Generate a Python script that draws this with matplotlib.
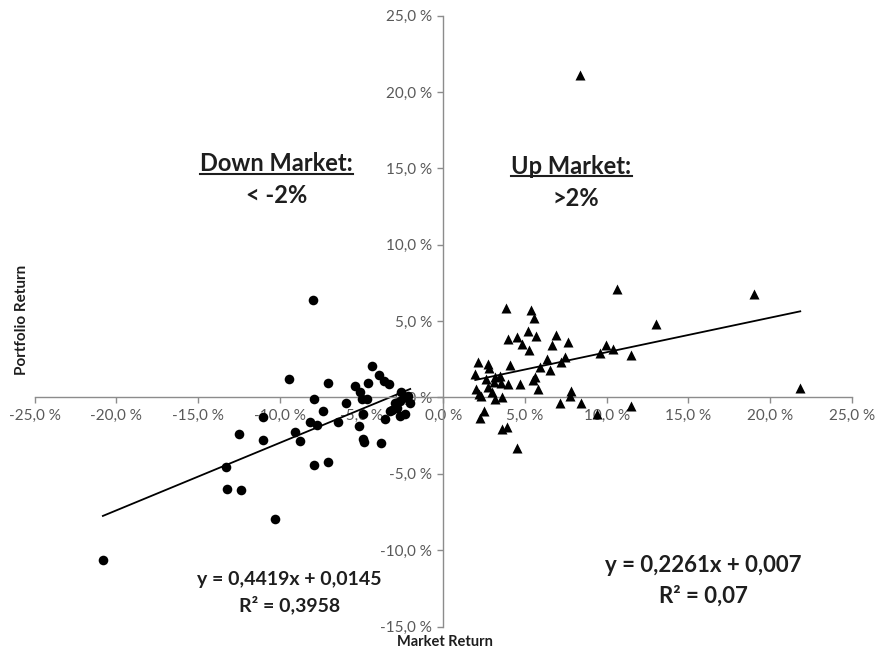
"""Up/down market capture scatter - portfolio vs market return."""

import numpy as np
import matplotlib
matplotlib.use('Agg')
import matplotlib.pyplot as plt
from matplotlib.lines import Line2D
from matplotlib.ticker import FuncFormatter, MultipleLocator

plt.rcParams['font.family'] = ['Lato', 'DejaVu Sans']

# Monthly returns in percent
down_x = [-8.0, -9.44, -7.06, -7.88, -4.35, -3.96, -3.61, -3.29, -4.59, -5.37,
          -5.08, -4.98, -4.67, -5.94, -2.59, -2.33, -2.94, -2.02, -2.83, -3.24,
          -2.63, -2.33, -3.59, -4.91, -5.18, -6.44, -7.36, -8.14, -7.73, -4.88,
          -4.83, -3.79, -9.06, -8.75, -11.03, -11.03, -12.50, -13.30, -13.22, -12.38,
          -7.88, -7.08, -10.30, -20.83, -2.63, -2.14, -3.12]
down_y = [6.37, 1.20, 0.96, -0.07, 2.07, 1.46, 1.05, 0.90, 0.96, 0.74,
          0.37, -0.07, -0.11, -0.33, 0.37, 0.05, -0.39, -0.39, -0.67, -0.89,
          -1.22, -1.11, -1.44, -1.11, -1.85, -1.59, -0.87, -1.59, -1.77, -2.75,
          -2.90, -2.99, -2.29, -2.86, -1.29, -2.77, -2.40, -4.58, -5.96, -6.09,
          -4.45, -4.21, -7.94, -10.65, -0.20, 0.07, -0.85]

up_x = [10.61, 19.03, 3.86, 5.39, 5.53, 13.05, 5.18, 3.96, 4.51, 5.65,
        6.93, 4.85, 6.65, 7.63, 5.26, 9.97, 10.42, 9.57, 11.49, 7.47,
        6.38, 7.22, 5.94, 6.51, 4.06, 2.10, 2.77, 2.83, 1.96, 3.14,
        3.49, 2.63, 3.08, 3.55, 3.96, 4.67, 5.63, 5.49, 5.83, 2.02,
        2.16, 2.77, 2.98, 3.18, 3.59, 2.31, 7.83, 7.77, 7.12, 8.43,
        11.49, 21.85, 9.41, 2.47, 2.22, 3.59, 3.90, 4.51, 8.34]
up_y = [7.13, 6.76, 5.87, 5.72, 5.21, 4.78, 4.38, 3.86, 3.93, 4.01,
        4.08, 3.53, 3.42, 3.60, 3.10, 3.42, 3.16, 2.88, 2.81, 2.66,
        2.51, 2.29, 2.01, 1.83, 2.11, 2.34, 2.16, 1.94, 1.51, 1.35,
        1.42, 1.18, 1.03, 0.92, 0.85, 0.87, 1.35, 1.13, 0.54, 0.54,
        0.26, 0.70, 0.33, -0.07, 0.05, 0.09, 0.41, 0.09, -0.39, -0.33,
        -0.54, 0.65, -1.05, -0.89, -1.37, -2.09, -1.92, -3.29, 21.14]

# Excel trendline coefficients (in fractions)
down_fit = (0.4419, 0.0145)
up_fit = (0.2261, 0.007)
down_eq = ["y = 0,4419x + 0,0145", "R² = 0,3958"]
up_eq = ["y = 0,2261x + 0,007", "R² = 0,07"]

AXIS_GREY = '#8c8c8c'
LABEL_GREY = '#595959'
INK = '#1e1e1e'

fig = plt.figure(figsize=(8.75, 6.5), dpi=100)
fig.patch.set_facecolor('white')
ax = fig.add_axes([0.0397, 0.036, 0.9337, 0.94])

ax.scatter(down_x, down_y, s=48, marker='o', color='black', zorder=3, linewidths=0)
ax.scatter(up_x, up_y, s=52, marker='^', color='black', zorder=3, linewidths=0)

# Trendlines over each data range
for xs, (m, b) in ((down_x, down_fit), (up_x, up_fit)):
    tx = np.array([min(xs), max(xs)])
    ax.plot(tx, (m * tx / 100 + b) * 100, color='black', lw=1.3, zorder=2)

ax.set_xlim(-25, 25)
ax.set_ylim(-15, 25)
ax.xaxis.set_major_locator(MultipleLocator(5))
ax.yaxis.set_major_locator(MultipleLocator(5))
pct = FuncFormatter(lambda v, _: f"{v:.1f}".replace('.', ',').replace('-0,0', '0,0') + " %")
ax.xaxis.set_major_formatter(pct)
ax.yaxis.set_major_formatter(pct)

for side in ('top', 'right'):
    ax.spines[side].set_visible(False)
ax.spines['left'].set_position(('data', 0))
ax.spines['bottom'].set_position(('data', 0))
for side in ('left', 'bottom'):
    ax.spines[side].set_color(AXIS_GREY)
    ax.spines[side].set_linewidth(1.0)
ax.tick_params(axis='both', direction='out', length=4, width=1.0, color=AXIS_GREY,
               labelcolor=LABEL_GREY, labelsize=11, pad=4)

# Section headers
hdr = dict(ha='center', va='center', fontsize=17, fontweight='bold', color=INK)
down_title = ax.text(-10.2, 15.3, "Down Market:", **hdr)
ax.text(-10.2, 13.2, "< -2%", **hdr)
up_title = ax.text(7.85, 15.15, "Up Market:", **hdr)
ax.text(8.1, 13.0, ">2%", **hdr)

# Trendline equations
ax.text(-9.4, -11.9, down_eq[0], ha='center', va='center', fontsize=14, fontweight='bold', color=INK)
ax.text(-9.4, -13.6, down_eq[1], ha='center', va='center', fontsize=14, fontweight='bold', color=INK)
ax.text(15.9, -11.0, up_eq[0], ha='center', va='center', fontsize=16, fontweight='bold', color=INK)
ax.text(15.9, -13.0, up_eq[1], ha='center', va='center', fontsize=16, fontweight='bold', color=INK)

# Axis titles
fig.text(0.508, 0.002, "Market Return", ha='center', va='bottom', fontsize=10.5,
         fontweight='bold', color=INK)
ax.text(-25.8, 5.1, "Portfolio Return", ha='center', va='center', fontsize=11, fontweight='bold',
        color=INK, rotation=90, clip_on=False)

# Underline the section headers
fig.canvas.draw()
renderer = fig.canvas.get_renderer()
inv = fig.transFigure.inverted()
for t in (down_title, up_title):
    bb = t.get_window_extent(renderer)
    (x0, y0), (x1, _) = inv.transform([(bb.x0, bb.y0 + 1.5), (bb.x1, bb.y0 + 1.5)])
    fig.add_artist(Line2D([x0, x1], [y0, y0], transform=fig.transFigure, color=INK, lw=1.5))

fig.savefig('out.png', dpi=100, facecolor='white')
